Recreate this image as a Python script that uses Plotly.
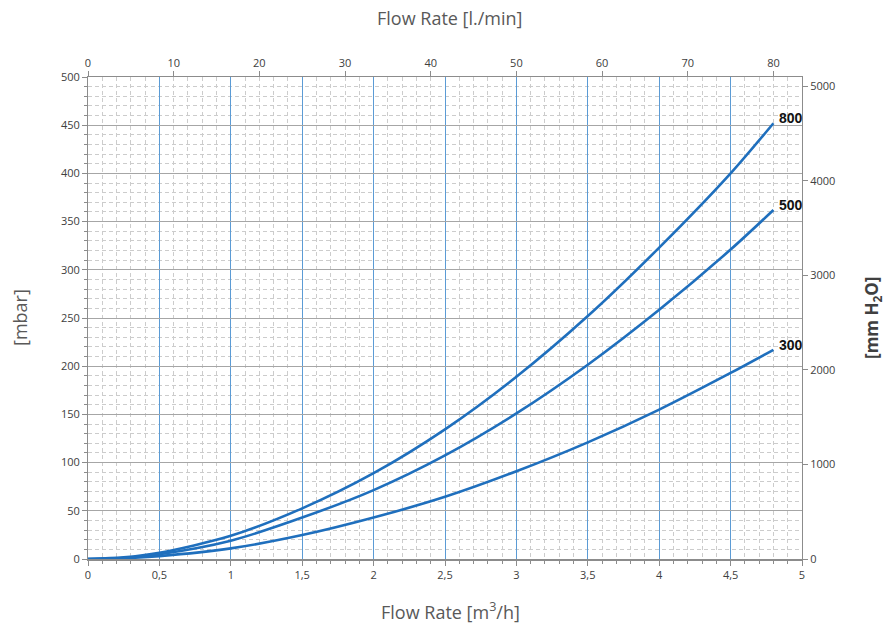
import plotly.graph_objects as go

# ---- data ----
flow_m3h = [0, 0.25, 0.5, 1, 1.5, 2, 2.5, 3, 3.5, 4, 4.5, 4.8]
dp_800 = [0, 1.7, 6.5, 24, 52.5, 89, 134.5, 189, 252, 323, 400, 452]
dp_500 = [0, 1.3, 5, 19, 43, 71.5, 107.5, 151, 201.5, 258.5, 321, 362]
dp_300 = [0, 0.8, 3, 11, 24.8, 43, 64.5, 91, 121, 155, 193, 217]
series_names = ["800", "500", "300"]
series_values = [dp_800, dp_500, dp_300]

M3H_TO_LMIN = 1000 / 60
MBAR_TO_MMH2O = 10.197

LINE = "#1f6fbd"
TICKFONT = dict(family="Open Sans, Noto Sans, sans-serif", size=11, color="#404040")
AXIS_LINE = "#8c8c8c"
MINOR_GRID = "#cccccc"
DASH = "4px,3px"

fig = go.Figure()
for name, vals in zip(series_names, series_values):
    fig.add_trace(go.Scatter(
        x=flow_m3h, y=vals, mode="lines", name=name,
        line=dict(color=LINE, width=2.6, shape="spline", smoothing=0.8),
        hoverinfo="skip", showlegend=False))
    fig.add_annotation(x=flow_m3h[-1], y=vals[-1], text="<b>%s</b>" % name,
                       showarrow=False, xanchor="left", yanchor="middle",
                       xshift=4, yshift=5,
                       font=dict(family="Liberation Sans, Arial, sans-serif",
                                 size=14, color="#111111"))

# invisible trace on secondary axes (l/min, mm H2O)
fig.add_trace(go.Scatter(
    x=[v * M3H_TO_LMIN for v in flow_m3h],
    y=[v * MBAR_TO_MMH2O for v in dp_800],
    xaxis="x2", yaxis="y2", mode="lines",
    line=dict(width=0, color="rgba(0,0,0,0)"),
    hoverinfo="skip", showlegend=False))

fig.update_layout(
    width=886, height=625,
    margin=dict(l=88, r=84, t=77, b=66, autoexpand=False),
    paper_bgcolor="white", plot_bgcolor="white",
    separators=", ",
    xaxis=dict(
        range=[0, 5], dtick=0.5, tick0=0, automargin=False,
        showgrid=True, gridcolor="#5b9bd5", gridwidth=1,
        showline=True, linecolor=AXIS_LINE, linewidth=1.5,
        ticks="outside", ticklen=5, tickcolor=AXIS_LINE,
        tickfont=TICKFONT, zeroline=False,
        minor=dict(dtick=0.1, showgrid=True, gridcolor=MINOR_GRID,
                   griddash=DASH, gridwidth=1,
                   ticks="outside", ticklen=3, tickcolor=AXIS_LINE),
    ),
    yaxis=dict(
        range=[0, 500], dtick=50, tick0=0, automargin=False,
        showgrid=True, gridcolor="#a6a6a6", gridwidth=1,
        showline=True, linecolor=AXIS_LINE, linewidth=1,
        ticks="outside", ticklen=5, tickcolor=AXIS_LINE,
        tickfont=TICKFONT, zeroline=False,
        minor=dict(dtick=10, showgrid=True, gridcolor=MINOR_GRID,
                   griddash=DASH, gridwidth=1,
                   ticks="outside", ticklen=3, tickcolor=AXIS_LINE),
    ),
    xaxis2=dict(
        overlaying="x", side="top", anchor="y", automargin=False,
        range=[0, 5 * M3H_TO_LMIN], dtick=10, tick0=0,
        showgrid=False, zeroline=False,
        showline=True, linecolor=AXIS_LINE, linewidth=1,
        ticks="outside", ticklen=5, tickcolor=AXIS_LINE,
        tickfont=TICKFONT,
    ),
    yaxis2=dict(
        overlaying="y", side="right", anchor="x", automargin=False,
        range=[0, 500 * MBAR_TO_MMH2O], dtick=1000, tick0=0,
        showgrid=False, zeroline=False,
        showline=True, linecolor=AXIS_LINE, linewidth=1,
        ticks="outside", ticklen=5, tickcolor=AXIS_LINE,
        tickfont=TICKFONT,
    ),
)

TITLEFONT = dict(family="Open Sans, Noto Sans, sans-serif", size=18, color="#595959")
fig.add_annotation(text="Flow Rate [m<sup>3</sup>/h]", xref="paper", yref="paper",
                   x=0.5, y=0, xanchor="center", yanchor="middle", yshift=-52,
                   xshift=5, showarrow=False, font=TITLEFONT)
fig.add_annotation(text="Flow Rate [l./min]", xref="paper", yref="paper",
                   x=0.5, y=1, xanchor="center", yanchor="middle", yshift=59,
                   xshift=5, showarrow=False, font=TITLEFONT)
fig.add_annotation(text="[mbar]", xref="paper", yref="paper",
                   x=0, y=0.5, xanchor="center", yanchor="middle", xshift=-68,
                   textangle=-90, showarrow=False, font=TITLEFONT)
fig.add_annotation(text="<b>[mm H<sub>2</sub>O]</b>", xref="paper", yref="paper",
                   x=1, y=0.5, xanchor="center", yanchor="middle", xshift=70,
                   textangle=-90, showarrow=False,
                   font=dict(family="Open Sans, Noto Sans, sans-serif", size=17,
                             color="#404040"))

fig.write_html("out.html",
               config={"displayModeBar": False},
               post_script="document.body.style.margin='0px';"
                           "document.body.style.padding='0px';")
